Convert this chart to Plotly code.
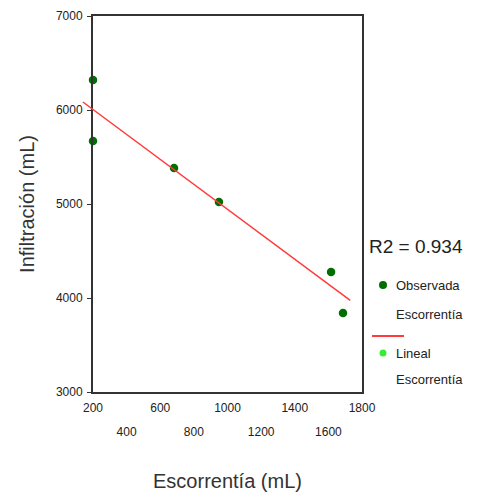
import plotly.graph_objects as go

# ---- data ----
escorrentia = [200, 200, 682, 949, 1616, 1687]
infiltracion = [6320, 5670, 5383, 5021, 4277, 3840]
lineal_x = [140, 1730]
lineal_y = [6085, 3975]
x_ticks_row1 = [200, 600, 1000, 1400, 1800]
x_ticks_row2 = [400, 800, 1200, 1600]
x_labels_row1 = ["200", "600", "1000", "1400", "1800"]
x_labels_row2 = ["400", "800", "1200", "1600"]
y_ticks = [3000, 4000, 5000, 6000, 7000]
y_labels = ["3000", "4000", "5000", "6000", "7000"]
r2_text = "R2 = 0.934"
legend_lines = ["Observada", "Escorrentía", "Lineal", "Escorrentía"]

# ---- layout constants (page has an 8px body margin) ----
OFF = 8
W, H = 482 - OFF, 496 - OFF
left_px, right_px, top_px, bottom_px = 93 - OFF, 362 - OFF, 16 - OFF, 392 - OFF
ML = left_px - 13
MR = W - right_px
MT = top_px
MB = H - bottom_px
plot_w = W - ML - MR
plot_h = H - MT - MB
f = (left_px - ML) / plot_w
x2min = (200 - f * 1800) / (1 - f)


def px(sx):
    return (sx - OFF - ML) / plot_w


def py(sy):
    return (bottom_px - (sy - OFF)) / plot_h


FONT = "Liberation Sans, Arial, sans-serif"
tickfont = dict(family=FONT, size=12, color="#222")
titlefont = dict(family=FONT, size=20, color="#333")
DARK_GREEN = "#006e00"
LIGHT_GREEN = "#33ee33"
RED = "#ff3b3b"

fig = go.Figure()
fig.add_trace(go.Scatter(
    x=escorrentia, y=infiltracion, mode="markers", name="Observada Escorrentía",
    marker=dict(color=DARK_GREEN, size=8.5), cliponaxis=False,
    xaxis="x", yaxis="y", showlegend=False))
fig.add_trace(go.Scatter(
    x=lineal_x, y=lineal_y, mode="lines", name="Lineal Escorrentía",
    line=dict(color=RED, width=1.5),
    xaxis="x2", yaxis="y2", showlegend=False))
# empty trace so the second row of x tick labels (overlaid axis) is drawn
fig.add_trace(go.Scatter(x=[None], y=[None], mode="markers", xaxis="x3", yaxis="y",
                         showlegend=False, hoverinfo="skip"))

axis_common = dict(showline=True, linecolor="#333", linewidth=2, mirror=True,
                   showgrid=False, zeroline=False, automargin=False)

# legend drawn as text + swatches
annotations = [dict(text=r2_text, xref="paper", yref="paper", x=px(367), y=py(247),
                    xanchor="left", yanchor="middle", showarrow=False,
                    font=dict(family=FONT, size=19, color="#222"))]
for txt, sy in zip(legend_lines, [285, 314, 353, 379]):
    annotations.append(dict(text=txt, xref="paper", yref="paper", x=px(394), y=py(sy),
                            xanchor="left", yanchor="middle", showarrow=False,
                            font=dict(family=FONT, size=13, color="#222")))

shapes = [
    dict(type="circle", xref="paper", yref="paper", xsizemode="pixel", ysizemode="pixel",
         xanchor=px(383), yanchor=py(285), x0=-4, x1=4, y0=-4, y1=4,
         fillcolor=DARK_GREEN, line=dict(width=0)),
    dict(type="line", xref="paper", yref="paper", x0=px(372), x1=px(404),
         y0=py(336), y1=py(336), line=dict(color=RED, width=2)),
    dict(type="circle", xref="paper", yref="paper", xsizemode="pixel", ysizemode="pixel",
         xanchor=px(383), yanchor=py(353), x0=-3.5, x1=3.5, y0=-3.5, y1=3.5,
         fillcolor=LIGHT_GREEN, line=dict(width=0)),
]

fig.update_layout(
    width=W, height=H,
    margin=dict(l=ML, r=MR, t=MT, b=MB, pad=0, autoexpand=False),
    paper_bgcolor="white", plot_bgcolor="rgba(0,0,0,0)",
    showlegend=False,
    xaxis=dict(domain=[f, 1], range=[200, 1800], tickvals=x_ticks_row1, ticktext=x_labels_row1,
               ticks="", tickfont=tickfont, ticklabelstandoff=4,
               title=dict(text="Escorrentía (mL)", font=titlefont, standoff=60),
               anchor="y", **axis_common),
    xaxis3=dict(overlaying="x", range=[200, 1800], tickvals=x_ticks_row2, ticktext=x_labels_row2,
                ticks="", tickfont=tickfont, ticklabelstandoff=31, anchor="y", side="bottom",
                showline=False, showgrid=False, zeroline=False, automargin=False),
    yaxis=dict(domain=[0, 1], range=[3000, 7000], tickvals=y_ticks, ticktext=y_labels,
               ticks="outside", ticklen=4, tickcolor="#333", tickfont=tickfont,
               ticklabelstandoff=2,
               title=dict(text="Infiltración (mL)", font=titlefont, standoff=16),
               anchor="x", **axis_common),
    xaxis2=dict(domain=[0, 1], range=[x2min, 1800], visible=False, anchor="y2"),
    yaxis2=dict(domain=[0, 1], range=[3000, 7000], visible=False, anchor="x2"),
    annotations=annotations,
    shapes=shapes,
)

fig.write_html("out.html")
